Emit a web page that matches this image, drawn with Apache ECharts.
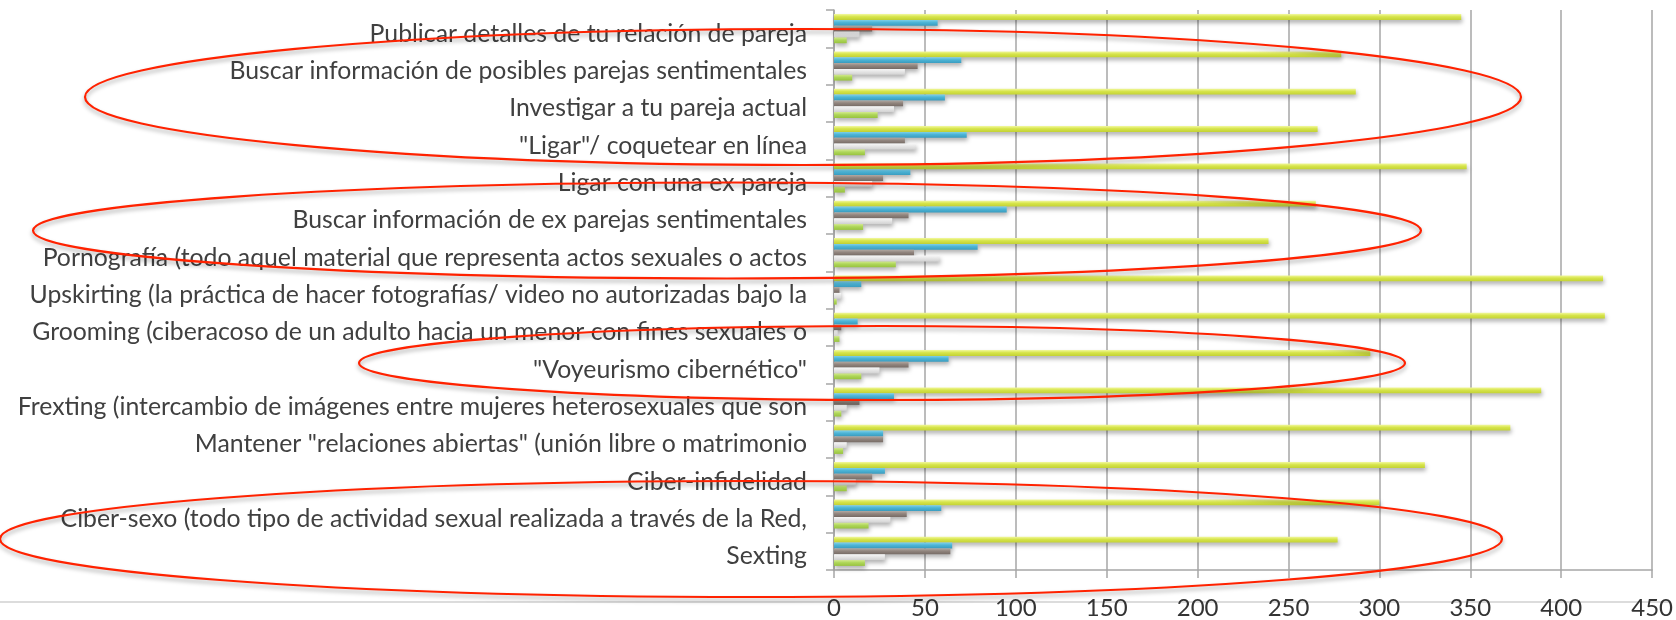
<!DOCTYPE html>
<html>
<head>
<meta charset="utf-8">
<script src="https://cdn.jsdelivr.net/npm/echarts@6/dist/echarts.min.js"></script>
<style>
  html, body { margin: 0; padding: 0; background: #fff; }
  #main { width: 1676px; height: 620px; }
</style>
</head>
<body>
<div id="main"></div>
<script>
// categorias, de arriba hacia abajo
var categorias = [
  'Publicar detalles de tu relación de pareja',
  'Buscar información de posibles parejas sentimentales',
  'Investigar a tu pareja actual',
  '"Ligar"/ coquetear en línea',
  'Ligar con una ex pareja',
  'Buscar información de ex parejas sentimentales',
  'Pornografía (todo aquel material que representa actos sexuales o actos',
  'Upskirting (la práctica de hacer fotografías/ video no autorizadas bajo la',
  'Grooming (ciberacoso de un adulto hacia un menor con fines sexuales o',
  '"Voyeurismo cibernético"',
  'Frexting (intercambio de imágenes entre mujeres heterosexuales que son',
  'Mantener "relaciones abiertas" (unión libre o matrimonio',
  'Ciber-infidelidad',
  'Ciber-sexo (todo tipo de actividad sexual realizada a través de la Red,',
  'Sexting'
];
// valores
var serie1 = [345, 279, 287, 266, 348, 265, 239, 423, 424, 295, 389, 372, 325, 300, 277];
var serie2 = [57, 70, 61, 73, 42, 95, 79, 15, 13, 63, 33, 27, 28, 59, 65];
var serie3 = [21, 46, 38, 39, 27, 41, 44, 3, 4, 41, 14, 27, 21, 40, 64];
var serie4 = [14, 39, 33, 45, 21, 32, 58, 4, 2, 25, 7, 7, 12, 31, 28];
var serie5 = [7, 10, 24, 17, 6, 16, 34, 1.5, 3, 15, 4, 5, 7, 19, 17];
var ticksX = [0, 50, 100, 150, 200, 250, 300, 350, 400, 450];

function grad(c1, c2, c3) {
  return new echarts.graphic.LinearGradient(0, 0, 0, 1, [
    { offset: 0, color: c1 }, { offset: 0.45, color: c2 }, { offset: 1, color: c3 }
  ]);
}
var sombra = { shadowColor: 'rgba(0,0,0,0.3)', shadowBlur: 4, shadowOffsetX: 1, shadowOffsetY: 3 };

function barra(nombre, datos, color) {
  return {
    name: nombre,
    type: 'bar',
    data: datos,
    barGap: '0%',
    barCategoryGap: '22%',
    itemStyle: Object.assign({ color: color }, sombra)
  };
}

// elipses rojas dibujadas encima
function elipse(cx, cy, rx, ry) {
  return {
    type: 'ellipse',
    z: 100,
    shape: { cx: cx, cy: cy, rx: rx, ry: ry },
    style: {
      fill: 'none', stroke: '#ff2200', lineWidth: 2.2,
      shadowColor: 'rgba(0,0,0,0.35)', shadowBlur: 4, shadowOffsetY: 3
    }
  };
}

var myChart = echarts.init(document.getElementById('main'));
myChart.setOption({
  animation: false,
  grid: { left: 834, right: 22, top: 10, bottom: 46, containLabel: false },
  xAxis: {
    type: 'value',
    min: 0, max: 450, interval: 50,
    axisLine: { show: true, lineStyle: { color: '#a6a6a6', width: 1.5 } },
    axisTick: { show: true, length: 8, lineStyle: { color: '#a6a6a6', width: 1.5 } },
    splitLine: { show: true, lineStyle: { color: '#a6a6a6', width: 1.5 } },
    axisLabel: {
      margin: 26, fontSize: 24, color: '#333',
      fontFamily: 'Lato',
      formatter: function (v) { return ticksX.indexOf(v) >= 0 ? String(v) : ''; }
    }
  },
  yAxis: {
    type: 'category',
    inverse: true,
    data: categorias,
    axisLine: { show: true, lineStyle: { color: '#a6a6a6', width: 1.5 } },
    axisTick: { show: true, length: 8, lineStyle: { color: '#a6a6a6', width: 1.5 } },
    axisLabel: {
      margin: 27, fontSize: 24.8, color: '#404040', fontFamily: 'Lato',
      verticalAlign: 'top', lineHeight: 10
    }
  },
  series: [
    barra('Serie 1', serie1, grad('#f1f89c', '#d6e44a', '#c3d235')),
    barra('Serie 2', serie2, grad('#7fd0e8', '#4cb4d6', '#3a9cbf')),
    barra('Serie 3', serie3, grad('#b2a8a1', '#91857e', '#776c66')),
    barra('Serie 4', serie4, grad('#f7f7f7', '#e6e6e6', '#d2d2d2')),
    barra('Serie 5', serie5, grad('#d3ea8e', '#aed659', '#98c33e'))
  ],
  graphic: [
    {
      type: 'line', z: -1,
      shape: { x1: 0, y1: 602, x2: 1670, y2: 602 },
      style: { stroke: '#dcdcdc', lineWidth: 2 }
    },
    elipse(803, 97, 718, 68),
    elipse(727, 230.5, 694, 48),
    elipse(882, 363, 523, 37),
    elipse(751, 539, 751, 58)
  ]
});
</script>
</body>
</html>
